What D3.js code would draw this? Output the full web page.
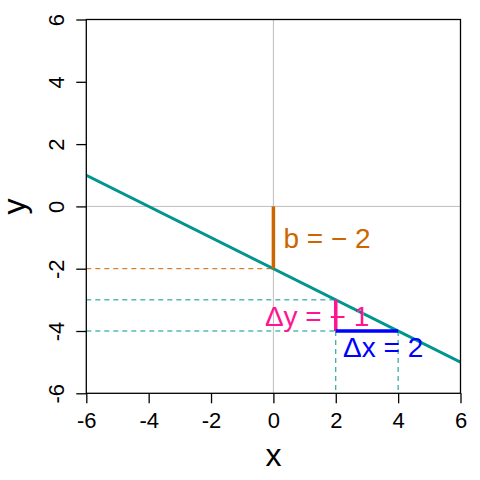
<!DOCTYPE html>
<html><head><meta charset="utf-8">
<script src="https://cdn.jsdelivr.net/npm/d3@7"></script>
<style>body{margin:0;background:#fff}svg{display:block;font-family:"Liberation Sans",Arial,sans-serif}</style>
</head><body>
<svg id="c" width="480" height="480"></svg>
<script>
const xTicks = [-6, -4, -2, 0, 2, 4, 6];
const yTicks = [-6, -4, -2, 0, 2, 4, 6];
const lineX = [-6, 6];
const lineY = [1, -5];
const intercept = [0, -2];
const p1 = [2, -3];
const p2 = [4, -4];
const labels = [
  {text: "b = \u2212 2", x: 1.72, y: -1, color: "#CC6600"},
  {text: "\u0394y = \u2212 1", x: 1.4, y: -3.5, color: "#FF1493"},
  {text: "\u0394x = 2", x: 3.52, y: -4.5, color: "#0000FF"}
];
const teal = "#009590";
const svg = d3.select("#c");
const x = d3.scaleLinear().domain([-6, 6]).range([86.3, 460.5]);
const y = d3.scaleLinear().domain([-6, 6]).range([393.3, 19.5]);
const g = svg.append("g");
g.append("line").attr("x1", x(0)).attr("x2", x(0)).attr("y1", y(-6)).attr("y2", y(6)).attr("stroke", "#BEBEBE").attr("stroke-width", 1);
g.append("line").attr("x1", x(-6)).attr("x2", x(6)).attr("y1", y(0)).attr("y2", y(0)).attr("stroke", "#BEBEBE").attr("stroke-width", 1);
const dash = (x1, y1, x2, y2, col) => g.append("line").attr("x1", x(x1)).attr("y1", y(y1)).attr("x2", x(x2)).attr("y2", y(y2)).attr("stroke", col).attr("stroke-width", 1).attr("stroke-dasharray", "5,4");
dash(-6, intercept[1], intercept[0], intercept[1], "#CC6600");
dash(-6, p1[1], p1[0], p1[1], teal);
dash(-6, p2[1], p1[0], p2[1], teal);
dash(p1[0], p2[1], p1[0], -6, teal);
dash(p2[0], p2[1], p2[0], -6, teal);
svg.append("clipPath").attr("id", "clip").append("rect").attr("x", x(-6)).attr("y", y(6)).attr("width", x(6) - x(-6)).attr("height", y(-6) - y(6));
g.append("line").attr("clip-path", "url(#clip)").attr("x1", x(lineX[0])).attr("y1", y(lineY[0])).attr("x2", x(lineX[1])).attr("y2", y(lineY[1])).attr("stroke", teal).attr("stroke-width", 3);
g.append("line").attr("x1", x(intercept[0])).attr("x2", x(intercept[0])).attr("y1", y(0)).attr("y2", y(intercept[1])).attr("stroke", "#CC6600").attr("stroke-width", 3.5);
g.append("line").attr("x1", x(p1[0])).attr("x2", x(p1[0])).attr("y1", y(p1[1])).attr("y2", y(p2[1])).attr("stroke", "#FF1493").attr("stroke-width", 3.5);
g.append("line").attr("x1", x(p1[0])).attr("x2", x(p2[0])).attr("y1", y(p2[1])).attr("y2", y(p2[1])).attr("stroke", "#0000FF").attr("stroke-width", 3.5);
g.append("rect").attr("x", x(-6)).attr("y", y(6)).attr("width", x(6) - x(-6)).attr("height", y(-6) - y(6)).attr("fill", "none").attr("stroke", "#000").attr("stroke-width", 1.3);
const xa = svg.append("g").attr("transform", `translate(0,${y(-6)})`).call(d3.axisBottom(x).tickValues(xTicks).tickSize(10).tickPadding(9).tickFormat(d => String(d)));
const ya = svg.append("g").attr("transform", `translate(${x(-6)},0)`).call(d3.axisLeft(y).tickValues(yTicks).tickSize(10).tickFormat(d => String(d)));
[xa, ya].forEach(a => { a.attr("font-size", null).attr("font-family", null); a.select(".domain").remove(); a.selectAll("line").attr("stroke", "#000").attr("stroke-width", 1.3); a.selectAll("text").style("font-size", "22px").attr("fill", "#000"); });
xa.selectAll("text").attr("dy", "0.71em");
ya.selectAll(".tick text").attr("transform", "rotate(-90)").attr("x", 0).attr("y", -22).attr("dy", "0").attr("dx", "0").attr("text-anchor", "middle");
svg.append("text").attr("x", x(0)).attr("y", 466).attr("text-anchor", "middle").style("font-size", "32px").text("x");
svg.append("text").attr("transform", `translate(25,${y(0)}) rotate(-90)`).attr("text-anchor", "middle").style("font-size", "32px").text("y");
svg.selectAll("text.lab").data(labels).join("text").attr("class", "lab").attr("x", d => x(d.x)).attr("y", d => y(d.y)).attr("dy", "0.36em").attr("text-anchor", "middle").style("font-size", "28px").attr("fill", d => d.color).text(d => d.text);
</script>
</body></html>
